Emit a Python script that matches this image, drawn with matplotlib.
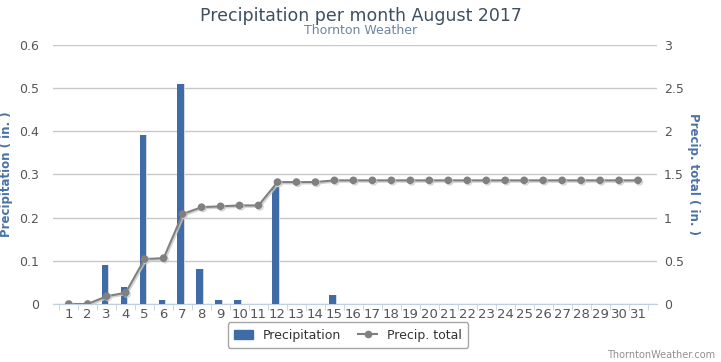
import matplotlib
matplotlib.use("Agg")
import matplotlib.pyplot as plt
from matplotlib.lines import Line2D
from matplotlib.patches import Patch
import matplotlib.patheffects as pe

days = list(range(1, 32))
precip = [0, 0, 0.09, 0.04, 0.39, 0.01, 0.51, 0.08, 0.01, 0.01, 0, 0.27, 0, 0, 0.02,
          0, 0, 0, 0, 0, 0, 0, 0, 0, 0, 0, 0, 0, 0, 0, 0]
total = [0, 0, 0.09, 0.13, 0.52, 0.53, 1.04, 1.12, 1.13, 1.14, 1.14, 1.41, 1.41, 1.41, 1.43,
         1.43, 1.43, 1.43, 1.43, 1.43, 1.43, 1.43, 1.43, 1.43, 1.43, 1.43, 1.43, 1.43, 1.43, 1.43, 1.43]

bar_color = "#3f6ca7"
line_color = "#808080"
tick_color = "#555555"
grid_color = "#c8c8c8"

fig = plt.figure(figsize=(7.21, 3.62), dpi=100)
ax = fig.add_axes([53 / 721, 58 / 362, 604 / 721, 259.4 / 362])
ax2 = ax.twinx()

# bars with a soft shadow
xb = [d - 0.1 for d in days]
ax.bar([x + 0.07 for x in xb], precip, width=0.34, color="#d8d8d8", zorder=2)
ax.bar(xb, precip, width=0.34, color=bar_color, zorder=3)

ax.set_ylim(0, 0.6)
ax.set_yticks([0, 0.1, 0.2, 0.3, 0.4, 0.5, 0.6])
ax.set_yticklabels(["0", "0.1", "0.2", "0.3", "0.4", "0.5", "0.6"])
ax.set_xlim(0.17, 32.0)
ax.set_xticks(days)
ax.set_xticks([d + 0.5 for d in range(0, 32)], minor=True)
ax.grid(axis="y", color=grid_color, linewidth=1)
ax.set_axisbelow(True)
for s in ["top", "left", "right"]:
    ax.spines[s].set_visible(False)
ax.spines["bottom"].set_color("#c0d0e0")
ax.tick_params(axis="x", which="major", length=0, labelsize=9.5, colors=tick_color, pad=3)
ax.tick_params(axis="x", which="minor", length=4, color="#c0d0e0")
ax.tick_params(axis="y", length=0, labelsize=9, colors=tick_color, pad=10)
ax.set_ylabel("Precipitation ( in. )", color="#4a72a6", fontsize=8.5, fontweight="bold")
ax.yaxis.set_label_coords(-0.066, 0.5)

ax2.plot(days, total, color=line_color, linewidth=1.5, marker="o", markersize=4.5, zorder=5,
         path_effects=[pe.SimpleLineShadow(offset=(1, -1), shadow_color="#c8c8c8", alpha=0.8), pe.Normal()])
ax2.set_ylim(0, 3)
ax2.set_yticks([0, 0.5, 1, 1.5, 2, 2.5, 3])
ax2.set_yticklabels(["0", "0.5", "1", "1.5", "2", "2.5", "3"])
for s in ["top", "left", "right", "bottom"]:
    ax2.spines[s].set_visible(False)
ax2.tick_params(axis="y", length=0, labelsize=9, colors=tick_color, pad=5)
ax2.set_ylabel("Precip. total ( in. )", color="#4a72a6", fontsize=8.5, fontweight="bold",
               rotation=-90, va="center")
ax2.yaxis.set_label_coords(1.06, 0.5)

fig.text(0.5, 1 - 16 / 362, "Precipitation per month August 2017", ha="center", va="center",
         fontsize=12.5, color="#3e4f60")
fig.text(0.5, 1 - 31 / 362, "Thornton Weather", ha="center", va="center",
         fontsize=9, color="#6d869f")

handles = [Patch(facecolor=bar_color, edgecolor=bar_color),
           Line2D([0], [0], color=line_color, marker="o", markersize=4.5, linewidth=1.5)]
leg = fig.legend(handles, ["Precipitation", "Precip. total"], loc="center",
                 bbox_to_anchor=(348 / 721, 1 - 335 / 362), ncol=2, fontsize=9,
                 frameon=True, fancybox=True, edgecolor="#909090", handlelength=1.5,
                 columnspacing=1.4, borderpad=0.5, labelcolor="#333333")
leg.get_frame().set_linewidth(1)

fig.text(715 / 721, 1 - 355 / 362, "ThorntonWeather.com", ha="right", va="center",
         fontsize=7, color="#909090")

fig.savefig("out.png", dpi=100)
